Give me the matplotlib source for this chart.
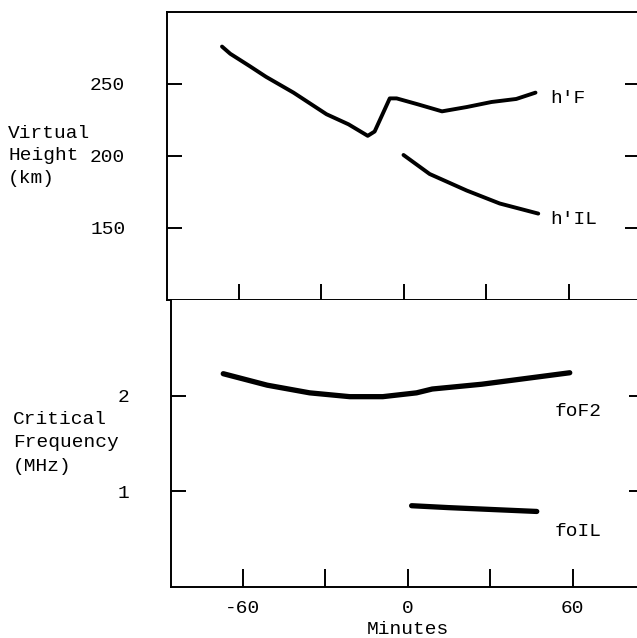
import matplotlib
matplotlib.use("Agg")
import matplotlib.pyplot as plt
import matplotlib.transforms as mtransforms

plt.rcParams['font.family'] = ['Liberation Mono', 'DejaVu Sans']

# virtual heights (km) vs minutes
hF_min = [-66, -63, -56, -50, -40, -28, -20, -13, -10.5, -5, -2.5, 5, 14, 23, 32, 41, 48]
hF_km = [276, 271, 262.5, 255, 244, 229, 222, 214, 217, 240, 240, 236, 231, 234, 237.5, 239.6, 244]
hIL_min = [0, 9.5, 23, 35, 49]
hIL_km = [200.7, 187.5, 176, 167, 160]

# critical frequencies (MHz) vs minutes
foF2_min = [-67, -51, -35.6, -21, -9, 3.3, 9, 27, 43, 59]
foF2_mhz = [2.23, 2.11, 2.03, 1.99, 1.99, 2.03, 2.07, 2.12, 2.18, 2.24]
foIL_min = [1.5, 15, 31, 47]
foIL_mhz = [0.85, 0.83, 0.81, 0.79]

x_ticks = [-60, -30, 0, 30, 60]
x_labels = ["-60", "", "0", "", "60"]
h_ticks = [150, 200, 250]
f_ticks = [1, 2]

fig = plt.figure(figsize=(6.37, 6.38), dpi=100)
ax1 = fig.add_axes([167/637, 0.5298, 473/637, 0.4514])
ax2 = fig.add_axes([171/637, 0.0799, 473/637, 0.4498])

fs = 14
for ax in (ax1, ax2):
    ax.set_xlim(-86, 86)
    for s in ax.spines.values():
        s.set_linewidth(1.4)

# top panel
ax1.plot(hF_min, hF_km, color='black', lw=2.8, solid_capstyle='round', solid_joinstyle='round')
ax1.plot(hIL_min, hIL_km, color='black', lw=2.8, solid_capstyle='round')
ax1.set_ylim(100, 300)
ax1.set_yticks(h_ticks)
ax1.set_yticklabels([str(t) for t in h_ticks], fontsize=fs)
ax1.tick_params(axis='y', direction='in', length=11, width=1.4, pad=30, right=True)
ax1.set_xticks(x_ticks)
ax1.set_xticklabels([])
ax1.tick_params(axis='x', direction='inout', length=23, width=1.4)
ax1.text(53.5, 239.6, "h'F", fontsize=fs, va='center')
ax1.text(53.5, 156, "h'IL", fontsize=fs, va='center')

tr1 = mtransforms.blended_transform_factory(fig.transFigure, ax1.transData)
fig.text(8/637, 200, "Virtual\nHeight\n(km)", transform=tr1, fontsize=fs,
         va='center', ha='left', linespacing=1.42)

# bottom panel
ax2.plot(foF2_min, foF2_mhz, color='black', lw=3.8, solid_capstyle='round')
ax2.plot(foIL_min, foIL_mhz, color='black', lw=3.8, solid_capstyle='round')
ax2.set_ylim(0, 3)
ax2.set_yticks(f_ticks)
ax2.set_yticklabels([str(t) for t in f_ticks], fontsize=fs)
ax2.tick_params(axis='y', direction='in', length=11, width=1.4, pad=30, right=True)
ax2.set_xticks(x_ticks)
ax2.set_xticklabels(x_labels, fontsize=fs)
ax2.tick_params(axis='x', direction='in', length=13, width=1.4, pad=9)
ax2.spines['top'].set_visible(False)
ax2.set_xlabel("Minutes", fontsize=fs, labelpad=3.5)
ax2.text(53.5, 1.83, "foF2", fontsize=fs, va='center')
ax2.text(53.5, 0.58, "foIL", fontsize=fs, va='center')

tr2 = mtransforms.blended_transform_factory(fig.transFigure, ax2.transData)
fig.text(13/637, 1.51, "Critical\nFrequency\n(MHz)", transform=tr2, fontsize=fs,
         va='center', ha='left', linespacing=1.5)

fig.savefig("out.png", dpi=100)
